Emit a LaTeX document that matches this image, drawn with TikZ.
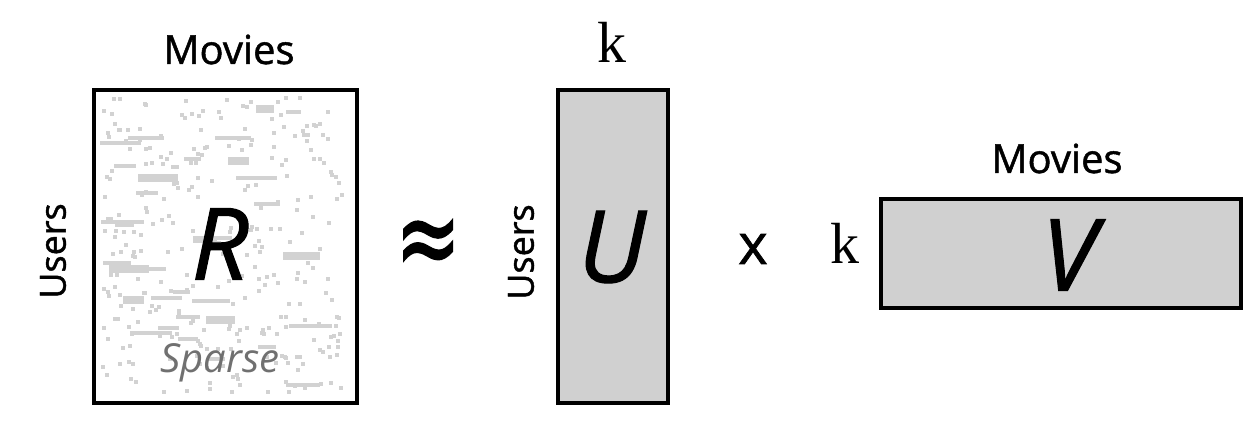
\documentclass[tikz,border=0pt]{standalone}
\usepackage{graphicx}
\usepackage{fontspec}
\setmainfont{Open Sans}
\newfontfamily\labfont[FakeBold=1.2]{Open Sans}
\newfontfamily\bigfont[FakeBold=1.1]{Open Sans}
\newfontfamily\kfont{Liberation Serif}
\newfontfamily\symfont[FakeBold=1.5]{DejaVu Sans}
\definecolor{fillgray}{HTML}{D0D0D0}
\definecolor{dotgray}{HTML}{D2D2D2}
\definecolor{sparsegray}{HTML}{707070}
\begin{document}
\begin{tikzpicture}[x=1pt,y=-1pt,
  matbox/.style={draw=black, line width=3.6pt, inner sep=0pt, anchor=north west},
  axislab/.style={font=\labfont\fontsize{40}{44}\selectfont, inner sep=0pt},
  userlab/.style={font=\labfont\fontsize{36}{40}\selectfont, inner sep=0pt, rotate=90},
  bigletter/.style={font=\bigfont\fontsize{100}{100}\selectfont\itshape, inner sep=0pt},
  klab/.style={font=\kfont\fontsize{58}{58}\selectfont, inner sep=0pt, anchor=base},
  texdot/.style={fill=dotgray}]
\useasboundingbox (0,0) rectangle (1250,422);
\fill[white] (0,0) rectangle (1250,422);
% matrix R
\node[matbox, fill=white, minimum width=263pt, minimum height=313pt] (R) at (92,88) {};
\pgfmathsetseed{12}
\foreach \i in {1,...,300}{
  \pgfmathsetmacro\xx{random(100,340)}
  \pgfmathsetmacro\yy{random(96,390)}
  \fill[texdot] (\xx,\yy) rectangle ++(4,4);
}
\foreach \i in {1,...,26}{
  \pgfmathsetmacro\xx{random(100,300)}
  \pgfmathsetmacro\yy{random(96,390)}
  \pgfmathsetmacro\ll{random(15,45)}
  \fill[texdot] (\xx,\yy) rectangle ++(\ll,4);
}
\foreach \i in {1,...,7}{
  \pgfmathsetmacro\xx{random(105,310)}
  \pgfmathsetmacro\yy{random(100,370)}
  \pgfmathsetmacro\ll{random(18,40)}
  \fill[texdot] (\xx,\yy) rectangle ++(\ll,8);
}
\node[bigletter] (Rl) at (220,244) {R};
\node[font=\fontsize{40}{40}\selectfont\itshape, text=sparsegray, anchor=base, inner sep=0pt] (sp) at (220,372) {Sparse};
\node[axislab, anchor=base] (movR) at (229,64) {Movies};
\node[userlab] (usrR) at (53,251) {Users};
% approx
\node[inner sep=0pt] (apx) at (428,248) {\scalebox{1.3}[1.9]{\symfont\fontsize{60}{60}\selectfont ≈}};
% matrix U
\node[matbox, fill=fillgray, minimum width=110pt, minimum height=313pt] (U) at (556,88) {};
\node[bigletter] (Ul) at (612,247) {U};
\node[klab] (kU) at (612,63) {k};
\node[userlab] (usrU) at (521,252) {Users};
% times
\node[font=\labfont\fontsize{56}{56}\selectfont, inner sep=0pt] (tm) at (753,249) {x};
% matrix V
\node[matbox, fill=fillgray, minimum width=360pt, minimum height=109pt] (V) at (879,197) {};
\node[bigletter] (Vl) at (1069,255) {V};
\node[klab] (kV) at (845,263) {k};
\node[axislab, anchor=base] (movV) at (1057,173) {Movies};
\end{tikzpicture}
\end{document}
